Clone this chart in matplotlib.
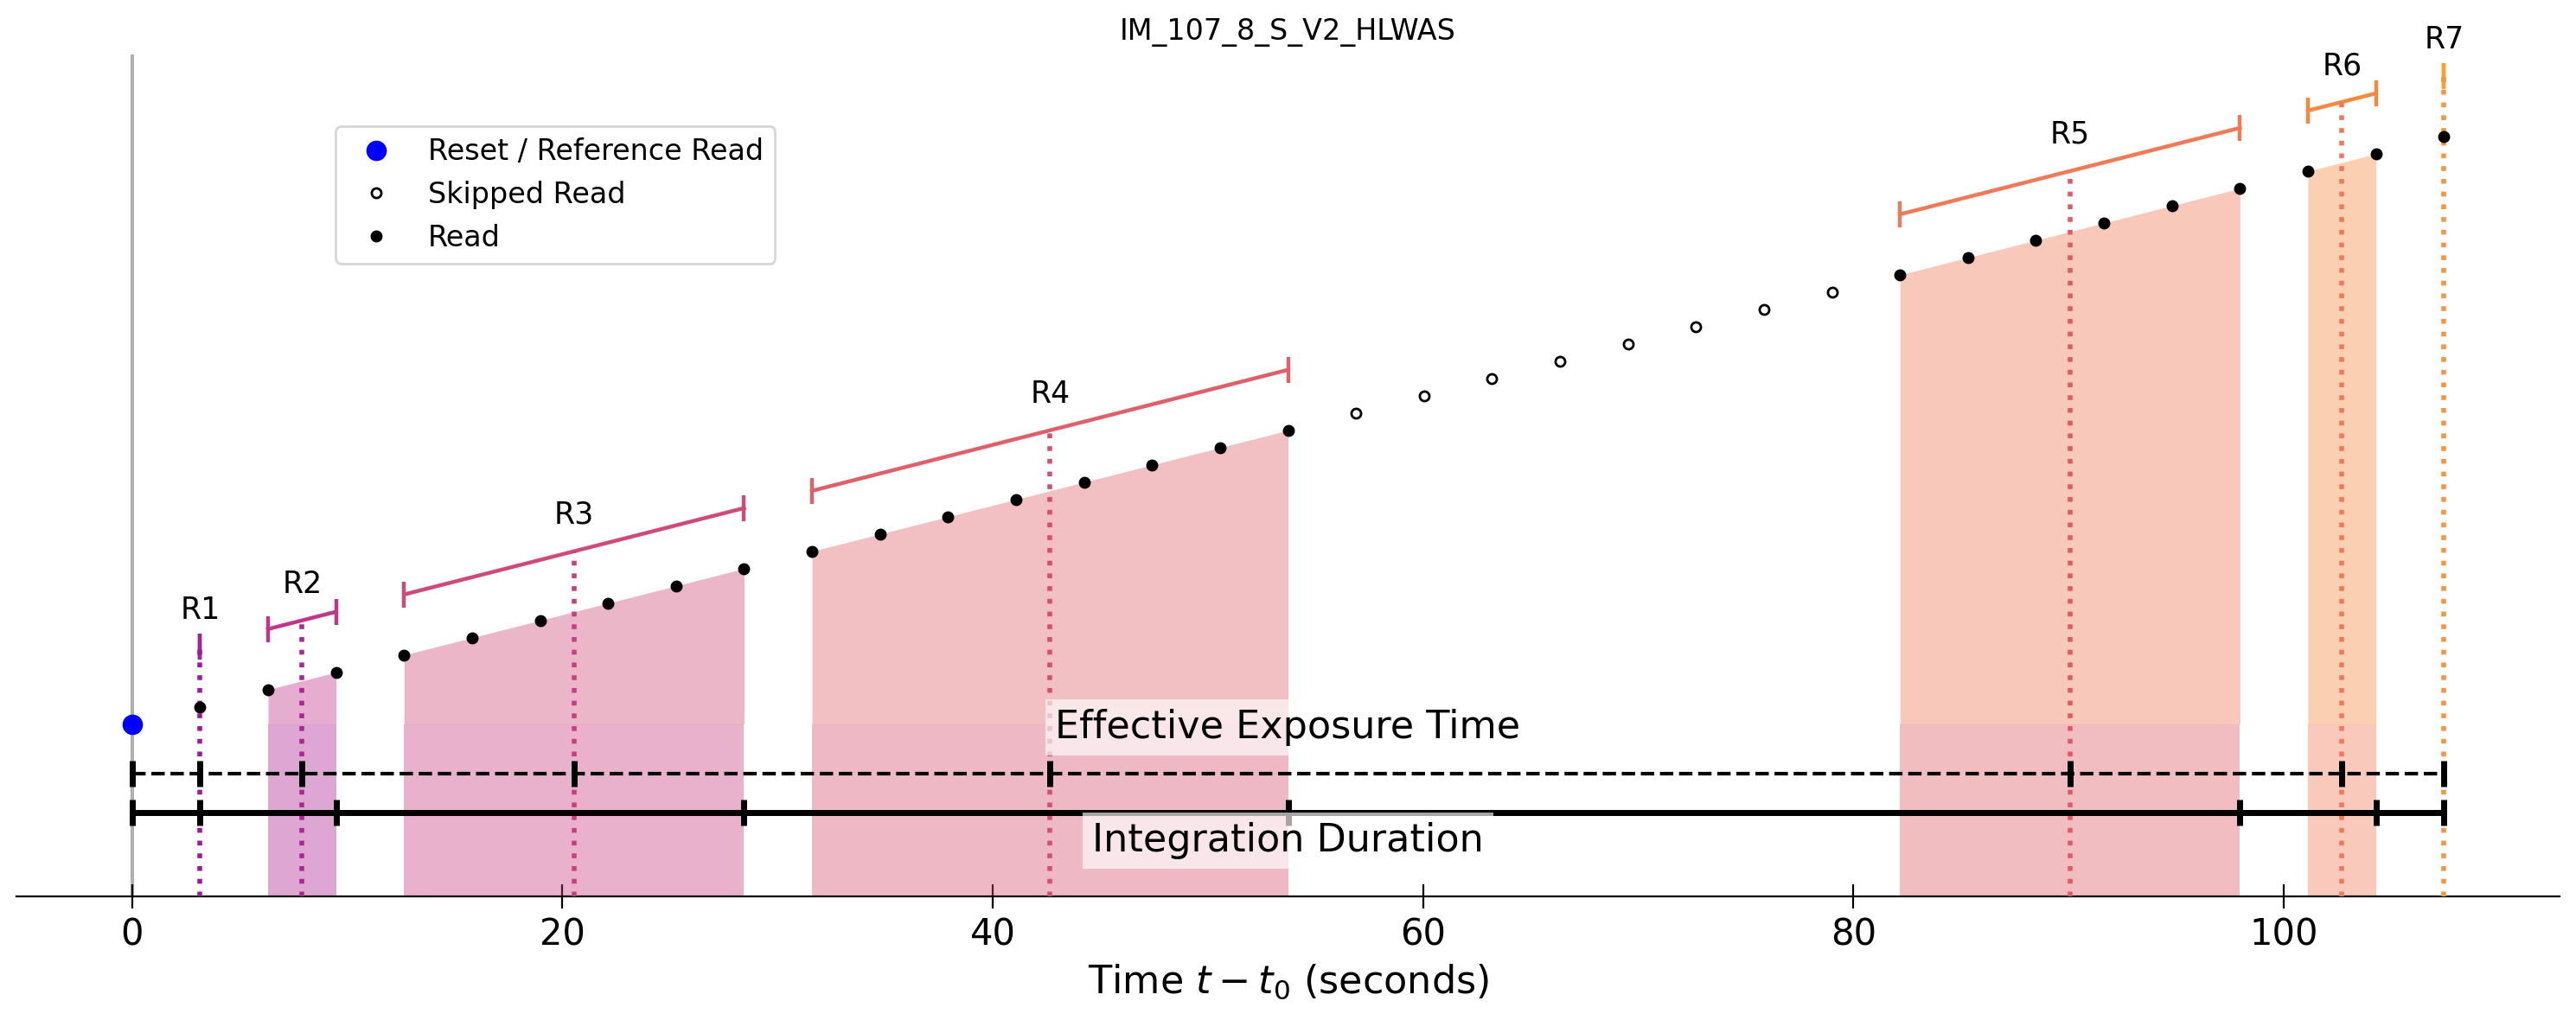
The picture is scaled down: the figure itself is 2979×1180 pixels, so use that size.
import numpy as np
import matplotlib
matplotlib.use("Agg")
import matplotlib.pyplot as plt

# read times (s) and accumulated signal (arbitrary units), reset read first
read_times = [0.00, 3.16, 6.32, 9.48, 12.64, 15.80, 18.96, 22.12, 25.28, 28.44,
              31.60, 34.76, 37.92, 41.08, 44.24, 47.40, 50.56, 53.72, 56.88,
              60.04, 63.20, 66.36, 69.52, 72.68, 75.84, 79.00, 82.16, 85.32,
              88.48, 91.64, 94.80, 97.96, 101.12, 104.28, 107.44]
signal = [0, 1, 2, 3, 4, 5, 6, 7, 8, 9, 10, 11, 12, 13, 14, 15, 16, 17, 18,
          19, 20, 21, 22, 23, 24, 25, 26, 27, 28, 29, 30, 31, 32, 33, 34]
# resultant each read belongs to: 0 = reset, -1 = skipped
resultant_of_read = [0, 1, 2, 2, 3, 3, 3, 3, 3, 3, 4, 4, 4, 4, 4, 4, 4, 4,
                     -1, -1, -1, -1, -1, -1, -1, -1, 5, 5, 5, 5, 5, 5, 6, 6, 7]
resultant_names = ["R1", "R2", "R3", "R4", "R5", "R6", "R7"]
title = "IM_107_8_S_V2_HLWAS"

bracket_colors = ['#a82296', '#c0368a', '#d04a78', '#e0606a', '#ef7a55', '#f58a3f', '#f9a030']
mid_colors = ['#9c1aa0', '#ad2593', '#c93e80', '#d64f70', '#e05a66', '#f07a58', '#f59540']

t = np.array(read_times)
s = np.array(signal, dtype=float)
grp = np.array(resultant_of_read)

ybot, ytop = -9.97, 38.75
offset = 3.5
y_eff, y_int = -2.85, -5.13

fig = plt.figure(figsize=(14.895, 5.9), dpi=200)
ax = fig.add_axes([0.0064, 0.1212, 0.9872, 0.8254])

ax.axvline(0, color='#b0b0b0', lw=1.5, zorder=1)

t_end = t[-1]
eff_ticks = [0.0]
int_ticks = [0.0]
for k, name in enumerate(resultant_names):
    sel = grp == k + 1
    tt, ss = t[sel], s[sel]
    tm, sm = tt.mean(), ss.mean()
    eff_ticks.append(tm)
    int_ticks.append(tt[-1])
    if len(tt) > 1:
        ax.fill_between(tt, 0, ss, color=bracket_colors[k], alpha=0.4, lw=0, zorder=2)
        ax.fill_between(tt, ybot, 0, color=mid_colors[k], alpha=0.4, lw=0, zorder=2)
    # bracket over the reads
    ax.plot([tt[0], tt[-1]], [ss[0] + offset, ss[-1] + offset], color=bracket_colors[k],
            lw=1.6, marker='|', ms=11, mew=1.6, zorder=3)
    ax.plot([tm, tm], [ybot, sm + offset], color=mid_colors[k], ls=':', lw=2, zorder=3)
    ax.text(tm, sm + offset + 2.1, name, ha='center', va='center', fontsize=12.5, zorder=6)

# exposure / integration lines
ax.plot([0, t_end], [y_eff, y_eff], color='black', ls='--', lw=1.5, zorder=4)
ax.plot(eff_ticks, [y_eff] * len(eff_ticks), ls='none', marker='|', color='black',
        ms=11, mew=2.5, zorder=4)
ax.plot([0, t_end], [y_int, y_int], color='black', ls='-', lw=2.5, zorder=4)
ax.plot(int_ticks, [y_int] * len(int_ticks), ls='none', marker='|', color='black',
        ms=11, mew=2.5, zorder=4)
ax.text(t_end / 2, -0.2, "Effective Exposure Time", ha='center', va='center', fontsize=16,
        bbox=dict(facecolor='white', alpha=0.65, edgecolor='none', pad=4), zorder=5)
ax.text(t_end / 2, -6.74, "Integration Duration", ha='center', va='center', fontsize=16,
        bbox=dict(facecolor='white', alpha=0.65, edgecolor='none', pad=4), zorder=5)

# reads
ax.plot(t[grp == 0], s[grp == 0], 'o', color='blue', ms=7.5, ls='none', zorder=7,
        label='Reset / Reference Read')
ax.plot(t[grp == -1], s[grp == -1], 'o', mfc='white', mec='black', mew=1, ms=4,
        ls='none', zorder=7, label='Skipped Read')
ax.plot(t[grp > 0], s[grp > 0], 'o', color='black', ms=4, ls='none', zorder=7,
        label='Read')

ax.set_ylim(ybot, ytop)
ax.set_yticks([])
for side in ['left', 'top', 'right']:
    ax.spines[side].set_visible(False)
ax.tick_params(axis='x', direction='inout', length=10, labelsize=15)
ax.set_xlabel(r'Time $t - t_0$ (seconds)', fontsize=16)
ax.set_title(title, fontsize=12)
ax.legend(loc='upper left', bbox_to_anchor=(0.1255, 0.9148), borderaxespad=0, fontsize=12)

fig.savefig("out.png", dpi=200)
